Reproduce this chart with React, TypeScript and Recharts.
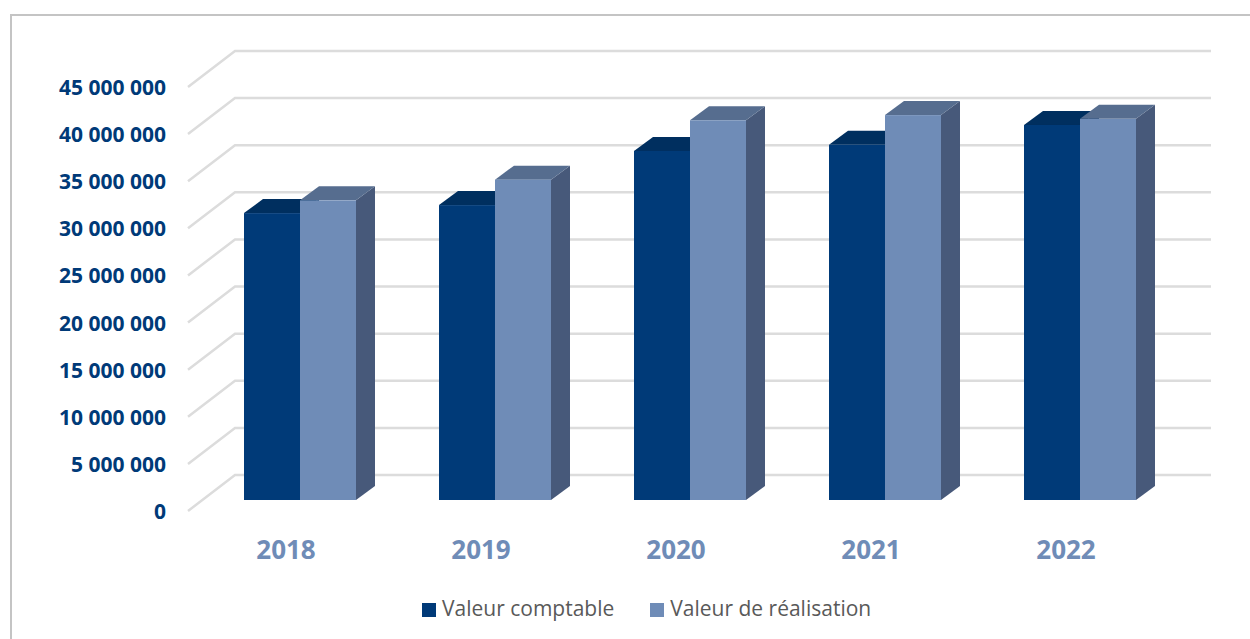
import { BarChart, Bar, XAxis, YAxis, CartesianGrid, Legend } from 'recharts';

const years = ['2018', '2019', '2020', '2021', '2022'];
const valeurComptable = [30450000, 31300000, 37050000, 37700000, 39800000];
const valeurRealisation = [31800000, 34000000, 40300000, 40850000, 40450000];
const yTicks = [0, 5000000, 10000000, 15000000, 20000000, 25000000, 30000000, 35000000, 40000000, 45000000];

const data = years.map((year, i) => ({
    year,
    comptable: valeurComptable[i],
    realisation: valeurRealisation[i],
}));

const DARK = '#003a78';
const LIGHT = '#6f8cb7';
const FONT = '"Open Sans", sans-serif';

const formatTick = (v: number) => String(v).replace(/\B(?=(\d{3})+$)/g, ' ');

// fake 3D box: front face plus top and right side
const Box3D = (topFill: string, sideFill: string) => (props: any) => {
    const { x, y, width, height, fill } = props;
    const dx = 19;
    const dy = -14;
    return (
        <g>
            <polygon
                points={`${x + width},${y} ${x + width + dx},${y + dy} ${x + width + dx},${y + height + dy} ${x + width},${y + height}`}
                fill={sideFill}
            />
            <polygon
                points={`${x},${y} ${x + dx},${y + dy} ${x + width + dx},${y + dy} ${x + width},${y}`}
                fill={topFill}
            />
            <rect x={x} y={y} width={width} height={height} fill={fill} />
        </g>
    );
};

// wall line + floor diagonal for each gridline
const WallLine = (props: any) => {
    const { x1, x2, y1 } = props;
    const points = `${x1 - 14},${y1 + 11} ${x1 + 33},${y1 - 25} ${x2 + 34},${y1 - 25}`;
    return <polyline points={points} fill="none" stroke="#dcdcdc" strokeWidth={2.5} />;
};

const YTick = (props: any) => {
    const { x, y, payload } = props;
    return (
        <text x={x} y={y + 19} textAnchor="end" fontFamily={FONT} fontWeight={700} fontSize={21} fill="#003a78">
            {formatTick(payload.value)}
        </text>
    );
};

const XTick = (props: any) => {
    const { x, y, payload } = props;
    return (
        <text x={x - 13.5} y={y + 51} textAnchor="middle" fontFamily={FONT} fontWeight={700} fontSize={26} fill="#6f8cb7">
            {payload.value}
        </text>
    );
};

export default function App() {
    return (
        <div style={{ position: 'absolute', left: 0, top: 0, width: 1250, height: 639, overflow: 'hidden', background: '#fff' }}>
            <div
                style={{
                    position: 'absolute',
                    left: 10,
                    top: 14,
                    width: 1300,
                    height: 700,
                    borderLeft: '2px solid #c4c4c4',
                    borderTop: '2px solid #c4c4c4',
                }}
            />
            <div style={{ position: 'absolute', left: 0, top: 0 }}>
                <BarChart
                    width={1250}
                    height={639}
                    data={data}
                    barGap={0}
                    barSize={56}
                    margin={{ top: 76, right: 73, bottom: 110, left: 201 }}
                >
                    <CartesianGrid vertical={false} horizontal={(p: any) => <WallLine key={p.key} {...p} />} />
                    <XAxis dataKey="year" height={1} axisLine={false} tickLine={false} tick={XTick} interval={0} />
                    <YAxis
                        width={1}
                        domain={[0, 45000000]}
                        ticks={yTicks}
                        interval={0}
                        axisLine={false}
                        tickLine={false}
                        tickSize={0}
                        tickMargin={36}
                        tick={YTick}
                    />
                    <Legend
                        align="left"
                        iconType="square"
                        iconSize={14}
                        wrapperStyle={{ left: 422, top: 594, width: 600, fontFamily: FONT, fontSize: 21 }}
                        formatter={(value: string) => (
                            <span style={{ color: '#595959', marginLeft: 2, marginRight: 26 }}>{value}</span>
                        )}
                    />
                    <Bar
                        dataKey="comptable"
                        name="Valeur comptable"
                        fill={DARK}
                        isAnimationActive={false}
                        shape={Box3D('#002f5f', '#002f5f')}
                    />
                    <Bar
                        dataKey="realisation"
                        name="Valeur de réalisation"
                        fill={LIGHT}
                        isAnimationActive={false}
                        shape={Box3D('#566d8f', '#47597a')}
                    />
                </BarChart>
            </div>
        </div>
    );
}
